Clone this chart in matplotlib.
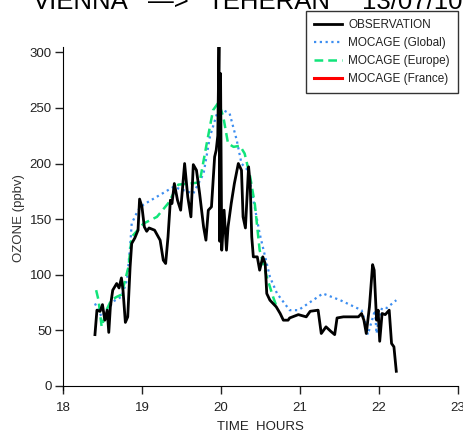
import matplotlib
matplotlib.use("Agg")
import matplotlib.pyplot as plt

plt.rcParams["font.family"] = ["Liberation Sans", "DejaVu Sans"]

# observation (time in hours, ozone in ppbv)
obs_t = [18.405, 18.43, 18.47, 18.50, 18.53, 18.56, 18.58, 18.60, 18.63, 18.68,
         18.71, 18.74, 18.76, 18.79, 18.82, 18.85, 18.87, 18.91, 18.95, 18.97,
         19.00, 19.03, 19.06, 19.09, 19.16, 19.23, 19.27, 19.30, 19.33, 19.36,
         19.38, 19.41, 19.45, 19.49, 19.54, 19.58, 19.62, 19.65, 19.69, 19.73,
         19.78, 19.81, 19.84, 19.88, 19.92, 19.94, 19.96, 19.975, 19.985, 19.995,
         20.01, 20.04, 20.07, 20.09, 20.13, 20.17, 20.22, 20.26, 20.28, 20.31,
         20.35, 20.37, 20.39, 20.41, 20.46, 20.49, 20.53, 20.56, 20.58, 20.62,
         20.66, 20.70, 20.75, 20.79, 20.85, 20.87, 20.98, 21.08, 21.13, 21.23,
         21.27, 21.33, 21.39, 21.44, 21.47, 21.55, 21.63, 21.74, 21.78, 21.81,
         21.84, 21.88, 21.92, 21.94, 21.97, 21.99, 22.01, 22.04, 22.08, 22.13,
         22.16, 22.19, 22.22]
obs_v = [46, 68, 67, 73, 59, 68, 48, 71, 86, 92,
         88, 97, 86, 57, 62, 107, 128, 133, 140, 168,
         161, 143, 139, 142, 140, 131, 113, 110, 134, 167,
         164, 182, 167, 158, 200, 170, 152, 199, 194, 173,
         143, 131, 158, 161, 206, 212, 225, 306, 130, 281,
         122, 158, 122, 143, 164, 182, 200, 194, 152, 142,
         197, 182, 134, 116, 116, 104, 116, 110, 83, 77,
         74, 71, 65, 59, 59, 61, 64, 62, 67, 68,
         47, 53, 49, 46, 61, 62, 62, 62, 65, 59,
         47, 71, 109, 104, 59, 68, 40, 65, 64, 68,
         38, 35, 13]

# MOCAGE global
glob_t = [18.405, 18.49, 18.55, 18.66, 18.74, 18.81, 18.85, 18.87, 18.95, 19.02,
          19.40, 19.65, 19.78, 19.86, 19.95, 20.03, 20.11, 20.20, 20.26, 20.34,
          20.49, 20.62, 20.71, 20.87, 20.98, 21.29, 21.51, 21.78, 21.82, 21.86,
          21.90, 21.95, 21.97, 22.00, 22.04, 22.10, 22.22]
glob_v = [74, 62, 68, 77, 80, 95, 125, 146, 158, 163,
          179, 173, 191, 224, 245, 248, 245, 221, 200, 194,
          137, 98, 83, 68, 68, 83, 77, 68, 59, 46,
          56, 68, 47, 62, 70, 70, 77]

# MOCAGE europe
eur_t = [18.42, 18.45, 18.49, 18.55, 18.61, 18.68, 18.74, 18.83, 18.87, 19.02,
         19.19, 19.33, 19.46, 19.61, 19.73, 19.82, 19.90, 19.97, 20.03, 20.09,
         20.16, 20.24, 20.30, 20.37, 20.43, 20.49, 20.58, 20.66, 20.70]
eur_v = [86, 77, 53, 68, 77, 80, 82, 107, 134, 146,
         152, 164, 181, 182, 183, 218, 248, 255, 242, 218,
         215, 216, 209, 188, 163, 122, 98, 80, 72]

# MOCAGE france (no values on this flight)
fra_t = []
fra_v = []

x_ticks = [18, 19, 20, 21, 22, 23]
y_ticks = [0, 50, 100, 150, 200, 250, 300]

fig = plt.figure(figsize=(4.63, 4.34), dpi=100)
ax = fig.add_axes([0.136, 0.101, 0.853, 0.791])

ax.plot(obs_t, obs_v, color="black", lw=2.0, label="OBSERVATION", zorder=3)
ax.plot(glob_t, glob_v, color="#3d8ef0", lw=1.6, ls=(0, (1, 1.6)), label="MOCAGE (Global)", zorder=2)
ax.plot(eur_t, eur_v, color="#11e47a", lw=1.8, ls=(0, (3.5, 2)), label="MOCAGE (Europe)", zorder=2)
ax.plot(fra_t, fra_v, color="red", lw=2.2, label="MOCAGE (France)")

ax.set_xlim(18, 23)
ax.set_ylim(-4, 305)
ax.spines["top"].set_visible(False)
ax.spines["right"].set_visible(False)
ax.spines["bottom"].set_position(("data", 0))
ax.set_xticks(x_ticks)
ax.set_yticks(y_ticks)
ax.tick_params(direction="out", length=6, width=1, labelsize=9.5, colors="#222222", pad=2)
ax.tick_params(axis="x", pad=5.5)

ax.set_xlabel("TIME  HOURS", fontsize=9.5, color="#222222", labelpad=5)
ax.set_ylabel("OZONE (ppbv)", fontsize=9.5, color="#333333", labelpad=3)

leg = ax.legend(loc="upper right", bbox_to_anchor=(458 / 463, 1 - 11 / 434),
                bbox_transform=fig.transFigure, fontsize=8.5, frameon=True,
                fancybox=False, handlelength=2.3, handletextpad=0.55,
                labelspacing=0.5, borderpad=0.7, borderaxespad=0)
leg.get_frame().set_edgecolor("black")
leg.get_frame().set_linewidth(1.0)
for t in leg.get_texts():
    t.set_color("#222222")

# title, mostly cut off at the top
ty = 1 - 9 / 434
fig.text(33 / 463, ty, "VIENNA", fontsize=18.5, va="baseline")
fig.text(148 / 463, ty, "\u2014>", fontsize=18.5, va="baseline")
fig.text(207 / 463, ty, "TEHERAN", fontsize=18.5, va="baseline")
fig.text(362 / 463, ty, "13/07/10", fontsize=18.5, va="baseline")

plt.savefig("out.png", dpi=100)
